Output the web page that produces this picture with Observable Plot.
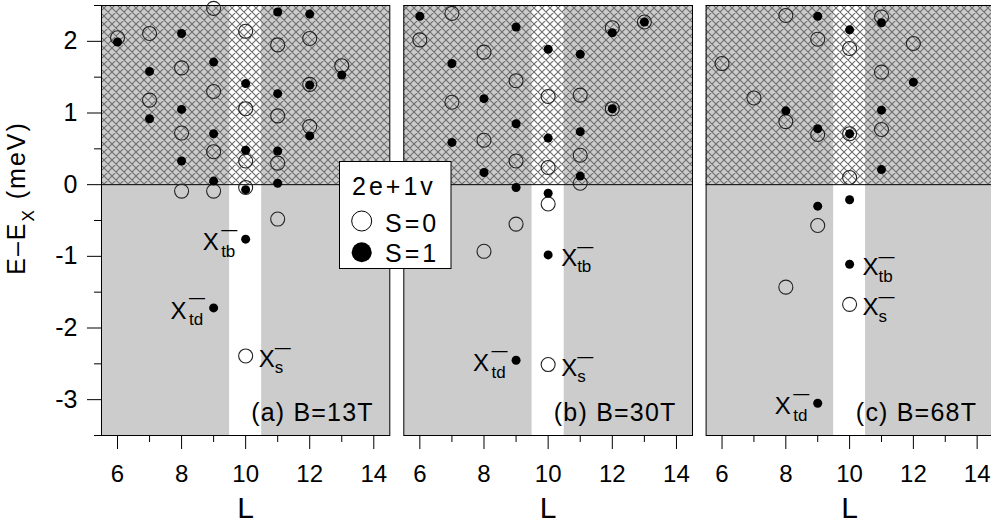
<!DOCTYPE html>
<html><head><meta charset="utf-8">
<script src="https://cdn.jsdelivr.net/npm/d3@7"></script>
<script src="https://cdn.jsdelivr.net/npm/@observablehq/plot@0.6"></script>
<style>
body{margin:0;background:#fff;overflow:hidden}
#wrap{position:relative;width:991px;height:523px;overflow:hidden;font-family:"Liberation Sans",Arial,sans-serif}
#wrap > svg{position:absolute;top:0}
</style></head><body><div id="wrap"></div>
<script>
// ---- axes / regions ----
const xDomain = [5.5, 14.5];
const yDomain = [-3.5, 2.5];
const stripe = [9.5, 10.5];          // white band around L = 10
const hatchFrom = 0;                 // hatched continuum above E = 0
const xMajor = [6, 8, 10, 12, 14];
const xMinor = [7, 9, 11, 13];
const yMajor = [-3, -2, -1, 0, 1, 2];
const yMinor = [-3.5, -2.5, -1.5, -0.5, 0.5, 1.5, 2.5];
const panelTitles = ["(a) B=13T", "(b) B=30T", "(c) B=68T"];

// ---- data: [L, E-E_X (meV)] ----
const s0_13T = [[6,2.05],[7,2.11],[7,1.18],[8,1.63],[8,0.72],[8,-0.09],[9,2.46],[9,1.30],[9,0.46],[9,-0.09],[10,2.14],[10,1.06],[10,0.33],[10,-0.04],[10,-2.39],[11,1.95],[11,0.96],[11,0.30],[11,-0.48],[12,2.04],[12,1.40],[12,0.81],[13,1.66]];
const s1_13T = [[6,1.99],[7,1.58],[7,0.92],[8,2.11],[8,1.05],[8,0.33],[9,1.71],[9,0.71],[9,0.05],[9,-1.72],[10,1.41],[10,0.48],[10,-0.07],[10,-0.76],[11,2.41],[11,1.27],[11,0.47],[11,0.02],[12,2.38],[12,1.39],[12,0.68],[13,1.53]];
const s0_30T = [[6,2.02],[7,2.39],[7,1.15],[8,1.85],[8,0.62],[8,-0.93],[9,1.45],[9,0.33],[9,-0.55],[10,1.23],[10,0.24],[10,-0.27],[10,-2.51],[11,1.25],[11,0.41],[11,0.02],[12,2.19],[12,1.06],[13,2.27]];
const s1_30T = [[6,2.35],[7,1.69],[7,0.59],[8,1.20],[8,0.17],[9,2.20],[9,0.85],[9,-0.04],[9,-2.45],[10,1.89],[10,0.65],[10,-0.12],[10,-0.98],[11,1.82],[11,0.74],[11,0.12],[12,2.12],[12,1.06],[13,2.27]];
const s0_68T = [[6,1.69],[7,1.21],[8,2.36],[8,0.88],[8,-1.43],[9,2.03],[9,0.70],[9,-0.57],[10,1.90],[10,0.71],[10,0.10],[10,-1.67],[11,2.34],[11,1.57],[11,0.77],[12,1.97]];
const s1_68T = [[8,1.03],[9,2.35],[9,0.78],[9,-0.30],[9,-3.05],[10,2.16],[10,0.71],[10,-0.21],[10,-1.11],[11,2.26],[11,1.04],[11,0.21],[12,1.43]];

// ---- labelled states ----
const lab13T = [{L:10,E:-0.76,sub:"tb",side:"left"},{L:9,E:-1.72,sub:"td",side:"left"},{L:10,E:-2.39,sub:"s",side:"right"}];
const lab30T = [{L:10,E:-0.98,sub:"tb",side:"right"},{L:9,E:-2.45,sub:"td",side:"left"},{L:10,E:-2.51,sub:"s",side:"right"}];
const lab68T = [{L:10,E:-1.11,sub:"tb",side:"right"},{L:10,E:-1.67,sub:"s",side:"right"},{L:9,E:-3.05,sub:"td",side:"left"}];

const FONT = "'Liberation Sans', Arial, sans-serif";
const HATCH_SENTINEL = "#a1b2c3";

function labelMarks(labs, side) {
  const data = labs.filter(d => d.side === side);
  const o = side === "left" ? {X: -43, sub: -24.5, bar: -4.5} : {X: 13, sub: 29, bar: -2.5};
  const common = {x: "L", y: "E", textAnchor: "start", lineAnchor: "bottom", fill: "black"};
  return [
    Plot.text(data, {...common, text: () => "X", dx: o.X, dy: 11, fontSize: 24}),
    Plot.text(data, {...common, text: "sub", dx: o.sub, dy: 17.5, fontSize: 17}),
    Plot.text(data, {...common, text: () => "\u2014", dx: o.sub, dy: o.bar, fontSize: 16})
  ];
}

function panel(i, s0, s1, labs, geom) {
  const first = i === 0;
  const marks = [
    Plot.frame({fill: "#cccccc"}),
    Plot.rect([stripe], {x1: d => d[0], x2: d => d[1], fill: "white"}),
    Plot.rect([[hatchFrom, yDomain[1]]], {y1: d => d[0], y2: d => d[1], fill: HATCH_SENTINEL}),
    Plot.ruleY([hatchFrom], {stroke: "black", strokeWidth: 1}),
    Plot.frame({stroke: "black", strokeWidth: 1}),
    Plot.axisX({ticks: xMajor, tickSize: 14, tickPadding: 15, fontSize: 24, label: null, stroke: "black", fill: "black"}),
    Plot.axisX({ticks: xMinor, tickSize: 7, fill: "none", label: null, stroke: "black"}),
    Plot.text(["L"], {frameAnchor: "bottom", lineAnchor: "bottom", dy: 82, fontSize: 30, fill: "black"}),
    Plot.dot(s0, {x: d => d[0], y: d => d[1], r: 7, stroke: "#222", strokeWidth: 1.1, fill: "none"}),
    Plot.dot(s1, {x: d => d[0], y: d => d[1], r: 4.5, fill: "black", stroke: "none"}),
    Plot.text([panelTitles[i]], {frameAnchor: "bottom-right", textAnchor: "end", lineAnchor: "bottom", dx: -16, dy: -14.5, fontSize: 25, fill: "black"}),
    ...labelMarks(labs, "left"),
    ...labelMarks(labs, "right")
  ];
  if (first) {
    marks.push(
      Plot.axisY({ticks: yMajor, tickSize: 14, tickPadding: 10, fontSize: 25, label: null, tickFormat: d => String(d), stroke: "black", fill: "black"}),
      Plot.axisY({ticks: yMinor, tickSize: 7, fill: "none", label: null, stroke: "black"})
    );
  }
  const svg = Plot.plot({
    width: geom.width, height: 523,
    marginLeft: geom.ml, marginRight: geom.mr, marginTop: 5, marginBottom: 88,
    x: {domain: xDomain, axis: null},
    y: {domain: yDomain, axis: null},
    style: {fontFamily: FONT, background: "transparent", overflow: "visible"},
    marks
  });
  const id = "hatch" + i;
  const defs = d3.select(svg).insert("defs", ":first-child");
  const p = defs.append("pattern").attr("id", id).attr("patternUnits", "userSpaceOnUse")
    .attr("width", 8).attr("height", 8);
  p.append("path").attr("d", "M0,0L8,8M0,8L8,0M-1,1L1,-1M7,9L9,7M-1,7L1,9M7,-1L9,1")
    .attr("stroke", "#6c6c6c").attr("stroke-width", 1.1).attr("fill", "none");
  svg.querySelectorAll(`[fill="${HATCH_SENTINEL}"]`).forEach(el => el.setAttribute("fill", `url(#${id})`));
  svg.querySelectorAll("text").forEach(t => {
    if (t.textContent === panelTitles[i]) t.style.letterSpacing = "1.2px";
  });
  svg.style.left = geom.left + "px";
  return svg;
}

const wrap = document.getElementById("wrap");
wrap.append(panel(0, s0_13T, s1_13T, lab13T, {left: 0, width: 396, ml: 101, mr: 6.7}));
wrap.append(panel(1, s0_30T, s1_30T, lab30T, {left: 398, width: 300, ml: 5.3, mr: 6}));
wrap.append(panel(2, s0_68T, s1_68T, lab68T, {left: 700, width: 300, ml: 5.6, mr: 7.4}));

// ---- overlay: y-axis title and legend ----
const ov = d3.select(wrap).append("svg").attr("width", 991).attr("height", 523)
  .style("left", "0px").style("font-family", FONT);
const yl = ov.append("text").attr("transform", "translate(25,198) rotate(-90)")
  .attr("text-anchor", "middle").attr("font-size", 25).attr("fill", "black").style("letter-spacing", "2px");
yl.append("tspan").text("E\u2013E");
yl.append("tspan").attr("font-size", 17).attr("dy", 9).text("X");
yl.append("tspan").attr("dy", -9).text(" (meV)");

const lg = ov.append("g");
lg.append("rect").attr("x", 339.5).attr("y", 161.5).attr("width", 111.5).attr("height", 107)
  .attr("fill", "white").attr("stroke", "black").attr("stroke-width", 1);
lg.append("text").attr("x", 352).attr("y", 195).attr("font-size", 25).style("letter-spacing", "3px").text("2e+1v");
lg.append("circle").attr("cx", 361.7).attr("cy", 221).attr("r", 10).attr("fill", "white").attr("stroke", "black");
lg.append("text").attr("x", 385).attr("y", 231.7).attr("font-size", 25).style("letter-spacing", "3px").text("S=0");
lg.append("circle").attr("cx", 361.7).attr("cy", 252.3).attr("r", 10).attr("fill", "black");
lg.append("text").attr("x", 385).attr("y", 261.7).attr("font-size", 25).style("letter-spacing", "3px").text("S=1");
</script></body></html>
